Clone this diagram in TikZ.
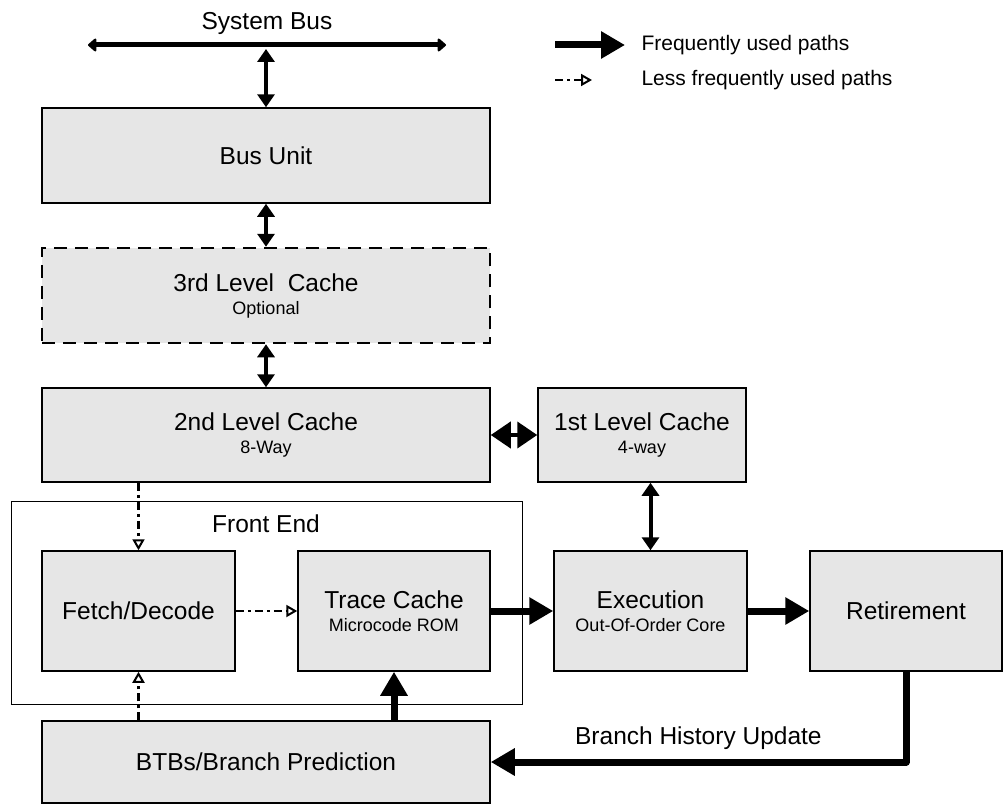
\documentclass[tikz,border=0pt]{standalone}
\usepackage{fontspec}
\setmainfont{Liberation Sans}
\usetikzlibrary{arrows.meta}
\definecolor{boxgray}{HTML}{E6E6E6}
\newcommand{\subtext}[1]{\\[-4pt]{\fontsize{18}{21}\selectfont #1}}
\tikzset{
    block/.style={draw, line width=1.5pt, fill=boxgray, align=center,
        inner sep=0pt, font=\fontsize{24.5}{27}\selectfont},
    frame/.style={draw, line width=0.6pt, inner sep=0pt},
    hot/.style={line width=7pt, -{Triangle[length=24pt,width=26pt]}},
    cold/.style={line width=2.8pt, dash pattern=on 8pt off 4pt on 3pt off 4pt,
        -{Triangle[open,length=11pt,width=12pt,line width=2pt]}},
    twoway/.style={line width=4pt,
        {Triangle[length=13pt,width=17pt]}-{Triangle[length=13pt,width=17pt]}},
    bus/.style={line width=5pt,
        {Triangle[round,length=9pt,width=15pt]}-{Triangle[round,length=9pt,width=15pt]}},
    legend/.style={right, font=\fontsize{21}{25}\selectfont}
}
\begin{document}
\begin{tikzpicture}[x=1pt,y=-1pt]
    \useasboundingbox (0,0) rectangle (1004,808);
    % front end frame
    \node[frame, minimum width=511pt, minimum height=203pt] (front) at (266.5,602.5) {};
    \node[font=\fontsize{24.5}{27}\selectfont] (frontlbl) at (266,524) {Front End};
    % blocks
    \node[block, minimum width=448pt, minimum height=95pt] (busunit) at (266,155.5) {Bus Unit};
    \node[block, line width=2.5pt, dash pattern=on 13pt off 8pt, minimum width=448pt, minimum height=95pt]
        (l3) at (266,295.5) {3rd Level\ \ Cache\subtext{Optional}};
    \node[block, minimum width=448pt, minimum height=94pt] (l2) at (266,435) {2nd Level Cache\subtext{8-Way}};
    \node[block, minimum width=208pt, minimum height=94pt] (l1) at (642,435) {1st Level Cache\subtext{4-way}};
    \node[block, minimum width=193pt, minimum height=120pt] (fetch) at (138.5,611) {Fetch/Decode};
    \node[block, minimum width=192pt, minimum height=120pt] (trace) at (394,611) {Trace Cache\subtext{Microcode ROM}};
    \node[block, minimum width=193pt, minimum height=120pt] (exec) at (650.5,611) {Execution\subtext{Out-Of-Order Core}};
    \node[block, minimum width=192pt, minimum height=120pt] (retire) at (906,611) {Retirement};
    \node[block, minimum width=448pt, minimum height=82pt] (btb) at (266,762) {BTBs/Branch Prediction};
    % system bus
    \coordinate (busL) at (88,45);
    \coordinate (busR) at (446,45);
    \coordinate (busmid) at (266,49);
    \draw[bus] (busL) -- (busR) node[midway, above=5pt, font=\fontsize{24.5}{27}\selectfont] (buslbl) {System Bus};
    % connectors
    \draw[twoway] (busmid) -- (busunit.north);
    \draw[twoway] (busunit.south) -- (l3.north);
    \draw[twoway] (l3.south) -- (l2.north);
    \draw[twoway, {Triangle[length=20pt,width=26pt]}-{Triangle[length=20pt,width=26pt]}] (l2.east) -- (l1.west);
    \draw[twoway] (exec.north |- l1.south) -- (exec.north);
    \draw[cold] (fetch.north |- l2.south) -- (fetch.north);
    \draw[cold] (fetch.east) -- (trace.west);
    \draw[cold] (fetch.south |- btb.north) -- (fetch.south);
    \draw[hot] (trace.south |- btb.north) -- (trace.south);
    \draw[hot] (trace.east) -- (exec.west);
    \draw[hot] (exec.east) -- (retire.west);
    \draw[hot, line join=round] (retire.south) |- (btb.east)
        node[pos=0.75, above=6pt, font=\fontsize{24.5}{27}\selectfont] (histlbl) {Branch History Update};
    % legend
    \coordinate (hotA) at (555,45);
    \coordinate (hotB) at (625,45);
    \coordinate (coldA) at (555,80);
    \coordinate (coldB) at (592,80);
    \draw[hot] (hotA) -- (hotB);
    \draw[cold] (coldA) -- (coldB);
    \node[legend] (hottxt) at (638,45) {Frequently used paths};
    \node[legend] (coldtxt) at (638,80) {Less frequently used paths};
\end{tikzpicture}
\end{document}
